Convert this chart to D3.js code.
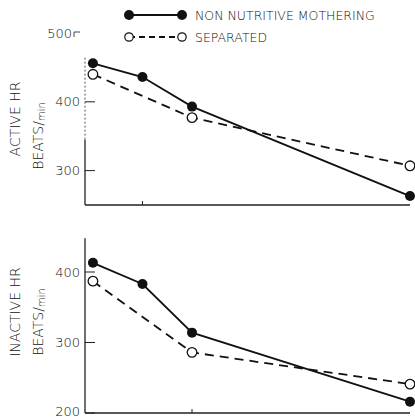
<!DOCTYPE html>
<html><head><meta charset="utf-8">
<script src="https://cdn.jsdelivr.net/npm/d3@7"></script>
<style>
body{margin:0;background:#fff;}
text{font-family:"DejaVu Sans",sans-serif;font-weight:200;fill:#111;}
</style></head>
<body><svg id="c" width="415" height="419"></svg>
<script>
const timePoints = [0, 1, 2, 6.4];
const activeNNM = [456, 436, 393, 263];
const activeSEP = [440, null, 377, 307];
const inactiveNNM = [413, 383, 314, 216];
const inactiveSEP = [387, null, 286, 241];
const activeTicks = [300, 400, 500];
const inactiveTicks = [200, 300, 400];
const seriesNames = ["NON NUTRITIVE MOTHERING", "SEPARATED"];

const svg = d3.select("#c");
const x = d3.scaleLinear().domain([-0.16, 6.4]).range([85, 410]);
const yTop = d3.scaleLinear().domain([250, 500]).range([205, 33]);
const yBot = d3.scaleLinear().domain([200, 400]).range([413, 272]);

function panel(y, nnm, sep, ticks, axisTop, dottedTo, title, titleY, beatsY, xTicks) {
  const g = svg.append("g");
  if (dottedTo !== null) {
    g.append("line").attr("x1", 85).attr("x2", 85).attr("y1", y.range()[0]).attr("y2", y(dottedTo))
      .attr("stroke", "#222").attr("stroke-width", 1.3);
    g.append("line").attr("x1", 85).attr("x2", 85).attr("y1", y(dottedTo)).attr("y2", y(axisTop))
      .attr("stroke", "#555").attr("stroke-width", 1).attr("stroke-dasharray", "2,2");
  } else {
    g.append("line").attr("x1", 85).attr("x2", 85).attr("y1", y.range()[0]).attr("y2", y(axisTop))
      .attr("stroke", "#222").attr("stroke-width", 1.3);
  }
  g.append("line").attr("x1", 85).attr("x2", x.range()[1]).attr("y1", y.range()[0]).attr("y2", y.range()[0])
    .attr("stroke", "#222").attr("stroke-width", 1.6);
  xTicks.forEach(t => {
    g.append("line").attr("x1", x(t)).attr("x2", x(t)).attr("y1", y.range()[0]).attr("y2", y.range()[0] - 4)
      .attr("stroke", "#222").attr("stroke-width", 1);
  });
  ticks.forEach(t => {
    const isBottom = (y(t) > 400);
    if (t <= axisTop) {
      g.append("line").attr("x1", 85).attr("x2", 95).attr("y1", y(t)).attr("y2", y(t))
        .attr("stroke", "#222").attr("stroke-width", 1);
      g.append("text").attr("x", 80).attr("y", y(t) - (isBottom ? 2 : 0)).attr("dy", "0.36em").attr("text-anchor", "end")
        .attr("font-size", 13).text(t);
    } else {
      g.append("path").attr("d", `M74,${y(t)+4}V${y(t)-1}H80`).attr("fill", "none")
        .attr("stroke", "#444").attr("stroke-width", 1);
      g.append("text").attr("x", 72).attr("y", y(t)).attr("dy", "0.36em").attr("text-anchor", "end")
        .attr("font-size", 13).text(t);
    }
  });
  const line = d3.line().x(d => x(d.t)).y(d => y(d.v));
  const nnmPts = timePoints.map((t, i) => ({t, v: nnm[i]})).filter(d => d.v !== null);
  const sepPts = timePoints.map((t, i) => ({t, v: sep[i]})).filter(d => d.v !== null);
  g.append("path").attr("d", line(sepPts)).attr("fill", "none").attr("stroke", "#111")
    .attr("stroke-width", 1.8).attr("stroke-dasharray", "9,6");
  g.append("path").attr("d", line(nnmPts)).attr("fill", "none").attr("stroke", "#111")
    .attr("stroke-width", 1.8);
  g.selectAll(".o").data(sepPts).enter().append("circle")
    .attr("cx", d => x(d.t)).attr("cy", d => y(d.v)).attr("r", 4.8)
    .attr("fill", "#fff").attr("stroke", "#111").attr("stroke-width", 1.3);
  g.selectAll(".f").data(nnmPts).enter().append("circle")
    .attr("cx", d => x(d.t)).attr("cy", d => y(d.v)).attr("r", 5).attr("fill", "#111");
  g.append("text").attr("transform", `translate(20,${titleY}) rotate(-90)`).attr("text-anchor", "middle")
    .attr("font-size", 14).text(title);
  const b = g.append("text").attr("transform", `translate(43,${beatsY}) rotate(-90)`).attr("text-anchor", "middle")
    .attr("font-size", 14);
  b.append("tspan").text("BEATS/");
  b.append("tspan").attr("font-size", 10).attr("dy", 2).text("min");
}

panel(yTop, activeNNM, activeSEP, activeTicks, 465, 345, "ACTIVE HR", 119, 136, [1]);
panel(yBot, inactiveNNM, inactiveSEP, inactiveTicks, 448, null, "INACTIVE HR", 312, 322, [2]);

const leg = svg.append("g");
[0, 1].forEach(i => {
  const ly = i === 0 ? 15 : 37;
  leg.append("line").attr("x1", 129).attr("x2", 182).attr("y1", ly).attr("y2", ly)
    .attr("stroke", "#111").attr("stroke-width", 1.8).attr("stroke-dasharray", i === 0 ? null : "6,4");
  [129, 182].forEach(cx => {
    leg.append("circle").attr("cx", cx).attr("cy", ly).attr("r", i === 0 ? 5 : 4.2)
      .attr("fill", i === 0 ? "#111" : "#fff").attr("stroke", "#111").attr("stroke-width", i === 0 ? 0 : 1.2);
  });
  leg.append("text").attr("x", 195).attr("y", ly).attr("dy", "0.36em").attr("font-size", 12.5).text(seriesNames[i]);
});
</script></body></html>
